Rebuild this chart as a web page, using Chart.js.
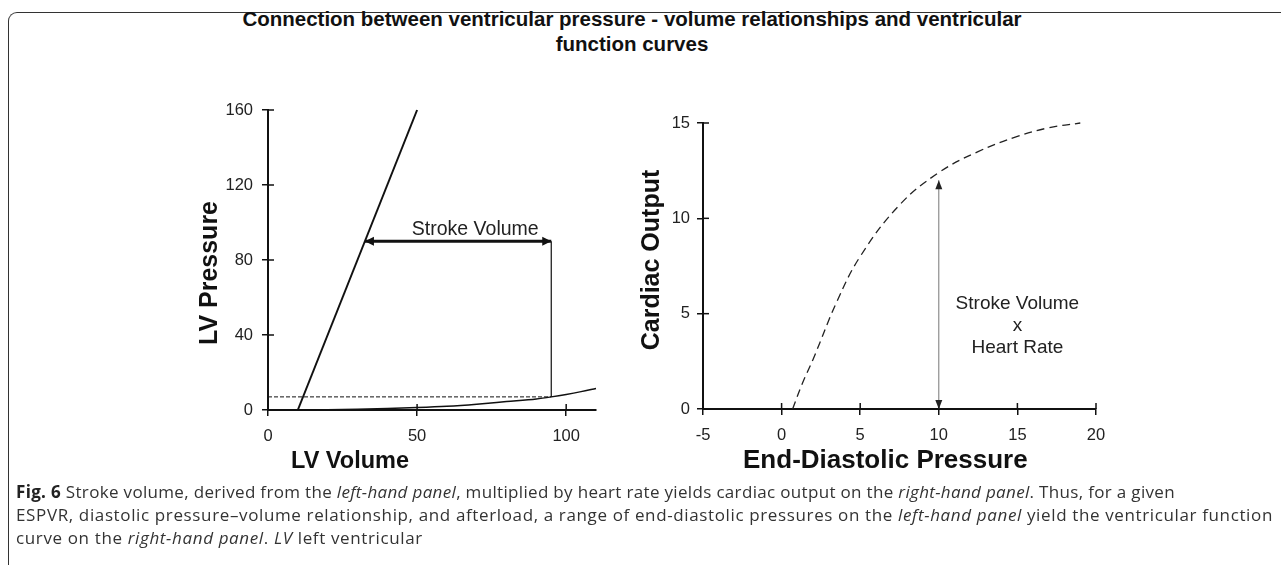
<!DOCTYPE html>
<html>
<head>
<meta charset="utf-8">
<script src="https://cdn.jsdelivr.net/npm/chart.js@4.4.1/dist/chart.umd.min.js"></script>
<style>
    body { margin: 0; background: #fff; }
    #lienzo { position: relative; width: 1281px; height: 565px; overflow: hidden; font-family: "Liberation Sans", Arial, sans-serif; }
    #marco { position: absolute; left: 8px; top: 12px; width: 1290px; height: 600px; border-left: 1.5px solid #333; border-top: 1.5px solid #333; border-top-left-radius: 9px; }
    #titulo { position: absolute; left: 0; width: 1264px; top: 6px; text-align: center; font-weight: bold; font-size: 20.5px; line-height: 25px; color: #111; }
    #graficoIzq { position: absolute; left: 150px; top: 90px; }
    #graficoDer { position: absolute; left: 620px; top: 100px; }
    #leyenda { position: absolute; left: 16px; top: 480px; font-family: "Open Sans", sans-serif; font-size: 17px; line-height: 23px; color: #333; white-space: nowrap; }
    #leyenda b { color: #222; }
</style>
</head>
<body>
<div id="lienzo">
    <div id="marco"></div>
    <div id="titulo">Connection between ventricular pressure - volume relationships and ventricular<br>function curves</div>
    <canvas id="graficoIzq" width="480" height="400"></canvas>
    <canvas id="graficoDer" width="500" height="390"></canvas>
    <div id="leyenda">
        <div><span class="linea" data-ancho="1159"><b>Fig. 6</b> Stroke volume, derived from the <i>left-hand panel</i>, multiplied by heart rate yields cardiac output on the <i>right-hand panel</i>. Thus, for a given</span></div>
        <div><span class="linea" data-ancho="1257">ESPVR, diastolic pressure–volume relationship, and afterload, a range of end-diastolic pressures on the <i>left-hand panel</i> yield the ventricular function</span></div>
        <div><span class="linea">curve on the <i>right-hand panel</i>. <i>LV</i> left ventricular</span></div>
    </div>
</div>
<script>
// ========== DATOS PANEL IZQUIERDO ==========
const volumenTicks = [0, 50, 100];
const presionTicks = [0, 40, 80, 120, 160];

const espvrVolumen = [10, 50];
const espvrPresion = [0, 160];

const edpvrVolumen = [0, 10, 20, 30, 40, 50, 60, 70, 80, 90, 95, 100, 105, 110];
const edpvrPresion = [0, 0, 0.1, 0.4, 0.8, 1.3, 2.0, 3.1, 4.5, 5.9, 7.0, 8.3, 9.8, 11.5];

const volumenSistolico = [32.5, 95];   // flecha Stroke Volume
const presionSistolica = 90;
const presionDiastolicaFinal = 7;

// ========== DATOS PANEL DERECHO ==========
const edpTicks = [-5, 0, 5, 10, 15, 20];
const gastoTicks = [0, 5, 10, 15];

const curvaEdp = [0.7, 1.3, 2, 3.5, 5, 7.5, 10, 12.5, 15, 17, 19];
const curvaGasto = [0, 1.3, 2.6, 5.6, 8.0, 10.7, 12.4, 13.5, 14.3, 14.75, 15.0];

const flechaEdp = 10;
const flechaGasto = [0, 12];

const puntos = (xs, ys) => xs.map((x, i) => ({ x: x, y: ys[i] }));

// ajustar el ancho de las lineas del pie de figura (la ultima usa el mismo espaciado)
let espaciado = 0;
document.querySelectorAll('.linea').forEach(el => {
    if (el.dataset.ancho) {
        const objetivo = Number(el.dataset.ancho);
        const actual = el.getBoundingClientRect().width;
        espaciado = (objetivo - actual) / el.textContent.length;
    }
    el.style.letterSpacing = espaciado.toFixed(3) + 'px';
});

// marcas de eje que cruzan la linea (Chart.js solo dibuja hacia fuera)
const marcasInternas = {
    id: 'marcasInternas',
    afterDatasetsDraw(chart) {
        const ctx = chart.ctx;
        ctx.save();
        ctx.strokeStyle = '#111';
        ctx.lineWidth = 1.5;
        const sx = chart.scales.x, sy = chart.scales.y;
        sx.ticks.forEach(t => {
            const px = sx.getPixelForValue(t.value);
            ctx.beginPath(); ctx.moveTo(px, sx.top); ctx.lineTo(px, sx.top - 6); ctx.stroke();
        });
        sy.ticks.forEach(t => {
            const py = sy.getPixelForValue(t.value);
            ctx.beginPath(); ctx.moveTo(sy.right, py); ctx.lineTo(sy.right + 6, py); ctx.stroke();
        });
        ctx.restore();
    }
};

// puntas de flecha en los extremos de los datasets marcados
const puntasFlecha = {
    id: 'puntasFlecha',
    afterDatasetsDraw(chart) {
        const ctx = chart.ctx;
        chart.data.datasets.forEach((ds, i) => {
            if (!ds.flecha) return;
            const pts = chart.getDatasetMeta(i).data;
            const dibujar = (a, b) => {
                const ang = Math.atan2(b.y - a.y, b.x - a.x);
                const largo = ds.flecha.largo, ancho = ds.flecha.ancho;
                ctx.save();
                ctx.translate(b.x, b.y);
                ctx.rotate(ang);
                ctx.fillStyle = ds.flecha.color || ds.borderColor;
                ctx.beginPath();
                ctx.moveTo(0, 0);
                ctx.lineTo(-largo, -ancho / 2);
                ctx.lineTo(-largo, ancho / 2);
                ctx.closePath();
                ctx.fill();
                ctx.restore();
            };
            dibujar(pts[0], pts[pts.length - 1]);
            dibujar(pts[pts.length - 1], pts[0]);
        });
    }
};

// textos: titulos de ejes y anotaciones
const textos = {
    id: 'textos',
    afterDraw(chart) {
        const ctx = chart.ctx;
        const cfg = chart.options.plugins.textos;
        const sx = chart.scales.x, sy = chart.scales.y;
        ctx.save();
        ctx.fillStyle = '#111';
        ctx.textAlign = 'center';
        ctx.textBaseline = 'middle';
        // titulo eje y
        ctx.save();
        ctx.translate(cfg.tituloY.x, (sy.top + sy.bottom) / 2 + cfg.tituloY.dy);
        ctx.rotate(-Math.PI / 2);
        ctx.font = 'bold 25px "Liberation Sans", Arial, sans-serif';
        ctx.fillText(cfg.tituloY.texto, 0, 0);
        ctx.restore();
        // titulo eje x
        ctx.font = 'bold ' + cfg.tituloX.tam + 'px "Liberation Sans", Arial, sans-serif';
        ctx.fillText(cfg.tituloX.texto, sx.getPixelForValue(cfg.tituloX.valor), sx.top + 52);
        // anotaciones
        ctx.fillStyle = '#222';
        cfg.notas.forEach(n => {
            ctx.font = n.tam + 'px "Liberation Sans", Arial, sans-serif';
            const px = sx.getPixelForValue(n.x), py = sy.getPixelForValue(n.y);
            n.lineas.forEach((l, k) => ctx.fillText(l, px, py + k * n.salto));
        });
        ctx.restore();
    }
};

function ejes(xMin, xMax, xTicks, yMin, yMax, yTicks, anchoY, altoX, pasoX, pasoY) {
    const comun = {
        type: 'linear',
        border: { color: '#111', width: 2 },
        grid: { drawOnChartArea: false, tickLength: 6, color: '#111', lineWidth: 1.5 }
    };
    return {
        x: Object.assign({}, comun, {
            min: xMin, max: xMax,
            afterBuildTicks: s => { s.ticks = xTicks.map(v => ({ value: v })); },
            afterFit: s => { s.height = altoX; },
            ticks: { color: '#222', padding: pasoX, maxRotation: 0, font: { size: 16.5, family: '"Liberation Sans", Arial' } }
        }),
        y: Object.assign({}, comun, {
            min: yMin, max: yMax,
            afterBuildTicks: s => { s.ticks = yTicks.map(v => ({ value: v })); },
            afterFit: s => { s.width = anchoY; },
            ticks: { color: '#222', padding: pasoY, font: { size: 16.5, family: '"Liberation Sans", Arial' } }
        })
    };
}

// ========== PANEL IZQUIERDO ==========
new Chart(document.getElementById('graficoIzq'), {
    type: 'scatter',
    data: {
        datasets: [
            { data: puntos(edpvrVolumen, edpvrPresion), showLine: true, borderColor: '#111', borderWidth: 1.5, pointRadius: 0, cubicInterpolationMode: 'monotone' },
            { data: puntos(espvrVolumen, espvrPresion), showLine: true, borderColor: '#111', borderWidth: 2, pointRadius: 0 },
            { data: puntos([0, volumenSistolico[1]], [presionDiastolicaFinal, presionDiastolicaFinal]), showLine: true, borderColor: '#111', borderWidth: 1, borderDash: [4, 2], pointRadius: 0 },
            { data: puntos([volumenSistolico[1], volumenSistolico[1]], [presionSistolica, presionDiastolicaFinal]), showLine: true, borderColor: '#222', borderWidth: 1.3, pointRadius: 0 },
            { data: puntos(volumenSistolico, [presionSistolica, presionSistolica]), showLine: true, borderColor: '#111', borderWidth: 3, pointRadius: 0, flecha: { largo: 9, ancho: 9 } }
        ]
    },
    options: {
        responsive: false,
        animation: false,
        clip: false,
        layout: { padding: { top: 20, right: 34, left: 0, bottom: 0 } },
        scales: ejes(0, 110, volumenTicks, 0, 160, presionTicks, 118, 80, 11, 9),
        plugins: {
            legend: { display: false },
            tooltip: { enabled: false },
            textos: {
                tituloY: { texto: 'LV Pressure', x: 60, dy: 13 },
                tituloX: { texto: 'LV Volume', valor: 27.5, tam: 23.5 },
                notas: [{ x: 69.5, y: 96, lineas: ['Stroke Volume'], salto: 0, tam: 19.5 }]
            }
        }
    },
    plugins: [marcasInternas, puntasFlecha, textos]
});

// ========== PANEL DERECHO ==========
new Chart(document.getElementById('graficoDer'), {
    type: 'scatter',
    data: {
        datasets: [
            { data: puntos(curvaEdp, curvaGasto), showLine: true, borderColor: '#222', borderWidth: 1.3, borderDash: [8, 5], pointRadius: 0, tension: 0.4 },
            { data: puntos([flechaEdp, flechaEdp], flechaGasto), showLine: true, borderColor: '#777', borderWidth: 1, pointRadius: 0, flecha: { largo: 9, ancho: 7, color: '#222' } }
        ]
    },
    options: {
        responsive: false,
        animation: false,
        clip: false,
        layout: { padding: { top: 23, right: 24, left: 0, bottom: 0 } },
        scales: ejes(-5, 20, edpTicks, 0, 15, gastoTicks, 83, 81, 11, 7),
        plugins: {
            legend: { display: false },
            tooltip: { enabled: false },
            textos: {
                tituloY: { texto: 'Cardiac Output', x: 32, dy: -6 },
                tituloX: { texto: 'End-Diastolic Pressure', valor: 6.6, tam: 26 },
                notas: [{ x: 15, y: 5.5, lineas: ['Stroke Volume', 'x', 'Heart Rate'], salto: 22, tam: 19 }]
            }
        }
    },
    plugins: [marcasInternas, puntasFlecha, textos]
});
</script>
</body>
</html>
